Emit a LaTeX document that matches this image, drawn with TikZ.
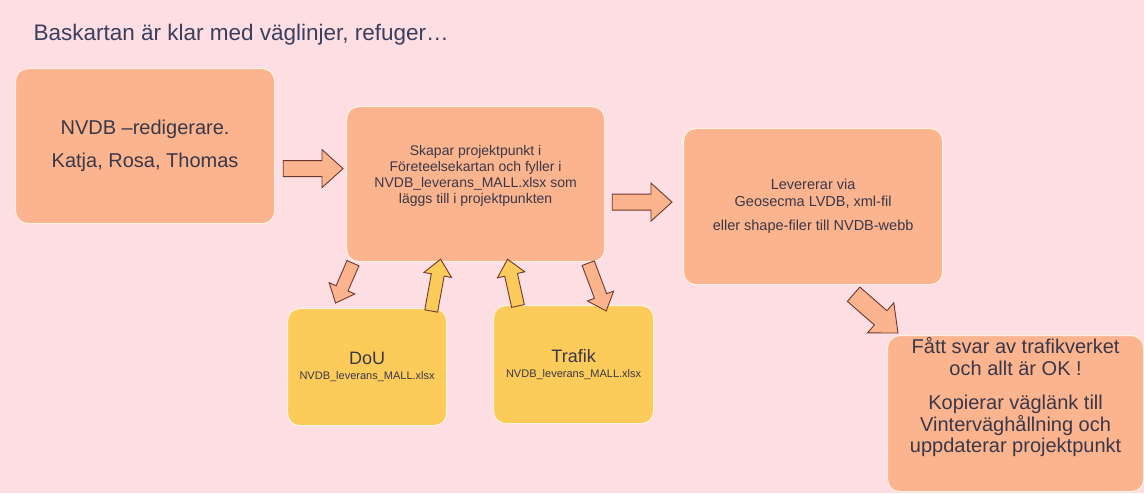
\documentclass[tikz,border=0pt]{standalone}
\usepackage{fontspec}
\setmainfont{Liberation Sans}
\usepackage{tikz}
\usetikzlibrary{calc}
\definecolor{c_bg}{HTML}{FDDEE2}
\definecolor{c_box}{HTML}{FBB48E}
\definecolor{c_note}{HTML}{FDCB5A}
\definecolor{c_edge}{HTML}{FFF1E4}
\definecolor{c_arrow}{HTML}{6E372D}
\definecolor{c_text}{HTML}{38384A}
\definecolor{c_title}{HTML}{3A3F5E}
\tikzset{c-box/.style={rectangle, rounded corners=12pt, anchor=north west, draw=c_edge, line width=1.2pt, fill=c_box, text=c_text, align=center, inner sep=2pt},
c-note/.style={c-box, fill=c_note, font=\fontsize{11}{15}\selectfont},
block-arrow/.style n args={3}{draw=c_arrow, line width=0.9pt, line join=miter,
  to path={let \p1=($(\tikztotarget)-(\tikztostart)$), \n1={atan2(\y1,\x1)}, \n2={veclen(\x1,\y1)-#3} in
    ($(\tikztostart)+(\n1+90:#1)$) -- ++(\n1:\n2) -- ++(\n1+90:#2-#1) -- (\tikztotarget)
    -- ($(\tikztostart)+(\n1:\n2)+(\n1-90:#2)$) -- ++(\n1+90:#2-#1) -- ++(\n1+180:\n2) -- cycle}},
big-arrow/.style={block-arrow={8pt}{19pt}{21pt}},
small-arrow/.style={block-arrow={6.5pt}{14pt}{16pt}}}

\begin{document}
\begin{tikzpicture}[x=1pt, y=-1pt]
\useasboundingbox (0,0) rectangle (1144,493);
\fill[c_bg] (0,0) rectangle (1144,493);
\node (title) [anchor=west, text=c_title, font=\fontsize{22.5}{26}\selectfont] at (30,35) {Baskartan är klar med väglinjer, refuger…};

\node (red) [c-box, minimum width=259, minimum height=155, font=\fontsize{20}{24}\selectfont] at (15,68) {
NVDB –redigerare.\\[9pt]
Katja, Rosa, Thomas
};
\node (skapar) [c-box, minimum width=258, minimum height=155, font=\fontsize{14}{16}\selectfont] at (346,106) {
Skapar projektpunkt i\\
Företeelsekartan och fyller i\\
NVDB\_leverans\_MALL.xlsx som\\
läggs till i projektpunkten\rule[-19pt]{0pt}{19pt}
};
\node (lev) [c-box, minimum width=259, minimum height=156, font=\fontsize{14.5}{16.5}\selectfont] at (683,128) {
Levererar via\\
Geosecma LVDB, xml-fil\\[8pt]
eller shape-filer till NVDB-webb
};
\node (fatt) [c-box, minimum width=256, minimum height=155, font=\fontsize{20}{21.5}\selectfont] at (887,335) {
Fått svar av trafikverket\\
och allt är OK !\\[13pt]
Kopierar väglänk till\\
Vinterväghållning och\\
uppdaterar projektpunkt\rule[-37pt]{0pt}{37pt}
};
\node (dou) [c-note, minimum width=159, minimum height=117] at (287,308) {
{\fontsize{18}{15}\selectfont DoU}\\
NVDB\_leverans\_MALL.xlsx
};
\node (trafik) [c-note, minimum width=160, minimum height=118] at (493,305) {
{\fontsize{18}{15}\selectfont Trafik}\\
NVDB\_leverans\_MALL.xlsx
};

\draw [big-arrow, fill=c_box] ([shift={(8,22.5)}]red.east) to ([shift={(-3,-15.5)}]skapar.west);
\draw [big-arrow, fill=c_box] ([shift={(7,18)}]skapar.east) to ([shift={(-11,-4.5)}]lev.west);
\draw [block-arrow={9.5pt}{20pt}{23pt}, fill=c_box] ([shift={(40.5,9)}]lev.south) to ([shift={(11,-2)}]fatt.north west);
\draw [small-arrow, fill=c_box] ([shift={(7,1)}]skapar.south west) to ([shift={(-31.5,-5)}]dou.north);
\draw [small-arrow, fill=c_note] ([shift={(-16,3)}]dou.north east) to ([shift={(-35,-3)}]skapar.south);
\draw [small-arrow, fill=c_note] ([shift={(25,1)}]trafik.north west) to ([shift={(32,-3)}]skapar.south);
\draw [small-arrow, fill=c_box] ([shift={(-17,1)}]skapar.south east) to ([shift={(-48,6)}]trafik.north east);
\end{tikzpicture}
\end{document}
